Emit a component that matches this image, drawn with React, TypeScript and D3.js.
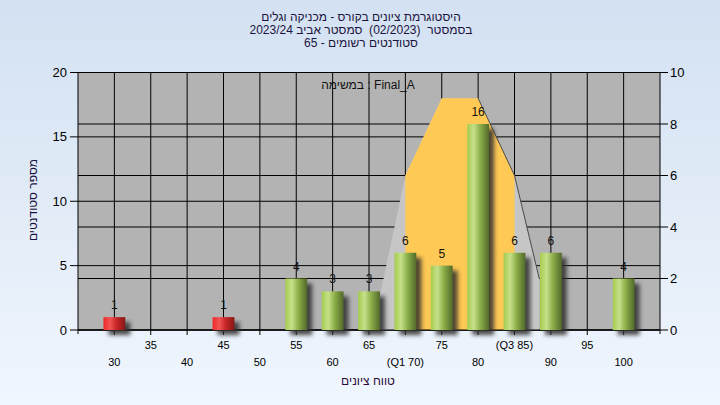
import React from 'react';
import * as d3 from 'd3';

const scoreBins = [30, 45, 55, 60, 65, 70, 75, 80, 85, 90, 100];
const studentCounts = [1, 1, 4, 3, 3, 6, 5, 16, 6, 6, 4];
const passMark = 50;
const xTickValues = [30, 35, 40, 45, 50, 55, 60, 65, 70, 75, 80, 85, 90, 95, 100];
const xTickLabels = ['30', '35', '40', '45', '50', '55', '60', '65', '(Q1 70)', '75', '80', '(Q3 85)', '90', '95', '100'];
const leftTicks = [0, 5, 10, 15, 20];
const rightTicks = [0, 2, 4, 6, 8, 10];
const rangeShapeX = [65.5, 70, 75, 80, 85, 88.4, 88.4];
const rangeShapeY = [0, 6, 9, 9, 6, 2, 0];
const iqrShapeX = [70, 70, 75, 80, 85, 85];
const iqrShapeY = [0, 6, 9, 9, 6, 0];
const edgeLineX = [80, 85, 88.4];
const edgeLineY = [9, 6, 2];
const titleLines = [
  'היסטוגרמת ציונים בקורס - מכניקה וגלים',
  'בסמסטר  (02/2023)  סמסטר אביב 2023/24',
  'סטודנטים רשומים - 65',
];
const taskLabel = 'במשימה : Final_A';
const yTitle = 'מספר סטודנטים';
const xTitle = 'טווח ציונים';

const W = 720, H = 405;
const L = 78, R = 660, T = 72.5, B = 330;
const FONT = '"Liberation Sans", Arial, "DejaVu Sans", sans-serif';

export default function App() {
  const x = d3.scaleLinear().domain([25, 105]).range([L, R]);
  const yL = d3.scaleLinear().domain([0, 20]).range([B, T]);
  const yR = d3.scaleLinear().domain([0, 10]).range([B, T]);
  const line = d3.line<[number, number]>().x(d => x(d[0])).y(d => yR(d[1]));
  const rangePts = rangeShapeX.map((v, i) => [v, rangeShapeY[i]] as [number, number]);
  const iqrPts = iqrShapeX.map((v, i) => [v, iqrShapeY[i]] as [number, number]);
  const edgePts = edgeLineX.map((v, i) => [v, edgeLineY[i]] as [number, number]);
  const halfW = 1.5;

  return (
    <svg width={W} height={H} style={{ position: 'fixed', left: 0, top: 0 }} fontFamily={FONT}>
      <defs>
        <linearGradient id="bg" x1="0" y1="0" x2="0" y2="1">
          <stop offset="0" stopColor="#d3e1f2" />
          <stop offset="1" stopColor="#f0f6fd" />
        </linearGradient>
        <linearGradient id="red" x1="0" y1="0" x2="1" y2="0">
          <stop offset="0" stopColor="#f02828" />
          <stop offset="0.3" stopColor="#f25454" />
          <stop offset="0.6" stopColor="#c82626" />
          <stop offset="1" stopColor="#851818" />
        </linearGradient>
        <linearGradient id="green" x1="0" y1="0" x2="1" y2="0">
          <stop offset="0" stopColor="#a4cc4e" />
          <stop offset="0.3" stopColor="#c6e08a" />
          <stop offset="0.6" stopColor="#8aae48" />
          <stop offset="1" stopColor="#52692a" />
        </linearGradient>
        <filter id="blur" x="-50%" y="-50%" width="200%" height="200%">
          <feGaussianBlur stdDeviation="2.2" />
        </filter>
      </defs>
      <rect x={0} y={0} width={W} height={H} fill="url(#bg)" />
      <rect x={L} y={T} width={R - L} height={B - T} fill="#b3b3b3" />

      {/* grid */}
      {leftTicks.map(t => (
        <line key={'gl' + t} x1={L} x2={R} y1={yL(t)} y2={yL(t)} stroke="#000" strokeWidth={1} />
      ))}
      {rightTicks.map(t => (
        <line key={'gr' + t} x1={L} x2={R} y1={yR(t)} y2={yR(t)} stroke="#000" strokeWidth={1} />
      ))}
      {xTickValues.map(t => (
        <line key={'gx' + t} x1={x(t)} x2={x(t)} y1={T} y2={B + 5} stroke="#000" strokeWidth={1} />
      ))}

      {/* range shapes */}
      <path d={line(rangePts) + 'Z'} fill="#c6c6c6" />
      <path d={line(iqrPts) + 'Z'} fill="#ffc955" />
      <path d={line(edgePts) || ''} fill="none" stroke="#4a4a4a" strokeWidth={1} />

      {/* axes */}
      <line x1={L} x2={R} y1={B} y2={B} stroke="#000" />
      <line x1={L} x2={L} y1={T} y2={B + 4} stroke="#000" />
      <line x1={R} x2={R} y1={T} y2={B + 4} stroke="#000" />
      {leftTicks.map(t => (
        <g key={'lt' + t}>
          <line x1={L - 8} x2={L} y1={yL(t)} y2={yL(t)} stroke="#000" />
          <text x={L - 11} y={yL(t) + 4.5} fontSize={13} textAnchor="end" fill="#000">{t}</text>
        </g>
      ))}
      {rightTicks.map(t => (
        <g key={'rt' + t}>
          <line x1={R} x2={R + 8} y1={yR(t)} y2={yR(t)} stroke="#000" />
          <text x={R + 10} y={yR(t) + 4.5} fontSize={13} textAnchor="start" fill="#000">{t}</text>
        </g>
      ))}
      {xTickValues.map((t, i) => (
        <text key={'xt' + t} x={x(t)} y={i % 2 === 0 ? 366 : 349} fontSize={11} textAnchor="middle" fill="#000">
          {xTickLabels[i]}
        </text>
      ))}

      {/* bars */}
      {scoreBins.map((v, i) => {
        const x0 = x(v - halfW), x1 = x(v + halfW);
        const top = yL(studentCounts[i]);
        return (
          <g key={'b' + v}>
            <rect x={x0 + 5} y={top + 5} width={x1 - x0} height={B - top} fill="#2e2e2e" opacity={0.85} filter="url(#blur)" />
          </g>
        );
      })}
      {scoreBins.map((v, i) => {
        const x0 = x(v - halfW), x1 = x(v + halfW);
        const top = yL(studentCounts[i]);
        return (
          <g key={'bb' + v}>
            <rect x={x0} y={top} width={x1 - x0} height={B - top} fill={v < passMark ? 'url(#red)' : 'url(#green)'} />
            <text x={x(v)} y={top - 8} fontSize={12} textAnchor="middle" fill="#111">{studentCounts[i]}</text>
          </g>
        );
      })}

      {/* texts */}
      {titleLines.map((s, i) => (
        <text key={'t' + i} x={361} y={21 + i * 12.8} fontSize={12} textAnchor="middle" direction="rtl" fill="#1c1440" style={{ whiteSpace: 'pre' }}>{s}</text>
      ))}
      <text x={368} y={89} fontSize={12} textAnchor="middle" fill="#111" style={{ whiteSpace: 'pre' }}>{taskLabel}</text>
      <text transform="translate(37,200) rotate(-90)" fontSize={12} textAnchor="middle" direction="rtl" fill="#1c1440">{yTitle}</text>
      <text x={368} y={385} fontSize={12} textAnchor="middle" direction="rtl" fill="#2a0a3a">{xTitle}</text>
    </svg>
  );
}
